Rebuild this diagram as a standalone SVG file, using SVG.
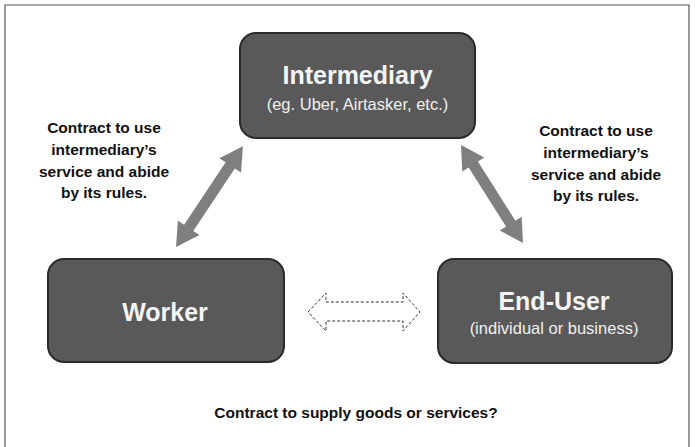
<svg xmlns="http://www.w3.org/2000/svg" width="695" height="447" viewBox="0 0 695 447">
<style>
.box{fill:#595959;stroke:#2b2b2b;stroke-width:2}
.title{font-family:"Liberation Sans",Arial,sans-serif;font-weight:bold;font-size:25px;fill:#f4f4f4;text-anchor:middle}
.sub{font-family:"Liberation Sans",Arial,sans-serif;font-size:16.5px;fill:#f0f0f0;text-anchor:middle}
.lbl{font-family:"Liberation Sans",Arial,sans-serif;font-weight:bold;font-size:15.5px;fill:#111;text-anchor:middle}
.garrow{fill:#7f7f7f}
.darrow{fill:#fff;stroke:#333;stroke-width:1;stroke-dasharray:3 2}
</style>
<rect x="0" y="0" width="695" height="447" fill="#fff"/>
<path d="M5,447 V5 H689 V447" fill="none" stroke="#555" stroke-width="1.2"/>
<g id="connectors">
<polygon class="garrow" transform="translate(176,247) rotate(-56.4)" points="0,0 23,-13 23,-5.5 98,-5.5 98,-13 121,0 98,13 98,5.5 23,5.5 23,13"/>
<polygon class="garrow" transform="translate(461,145) rotate(57.7)" points="0,0 23,-13 23,-5.5 93,-5.5 93,-13 116,0 93,13 93,5.5 23,5.5 23,13"/>
<polygon class="darrow" points="308,312 326,293 326,302 403,302 403,293 420,312 403,331 403,321 326,321 326,331"/>
</g>
<g id="intermediary">
<rect class="box" x="240" y="33" width="235" height="105" rx="16"/>
<text class="title" x="357.5" y="84">Intermediary</text>
<text class="sub" x="357.5" y="110">(eg. Uber, Airtasker, etc.)</text>
</g>
<g id="worker">
<rect class="box" x="48" y="259" width="236" height="103" rx="16"/>
<text class="title" x="165" y="321">Worker</text>
</g>
<g id="enduser">
<rect class="box" x="438" y="259" width="234" height="104" rx="16"/>
<text class="title" x="554" y="310">End-User</text>
<text class="sub" x="554" y="334">(individual or business)</text>
</g>
<g id="label-left">
<text class="lbl" x="104" y="133">Contract to use</text>
<text class="lbl" x="104" y="155">intermediary’s</text>
<text class="lbl" x="104" y="177">service and  abide</text>
<text class="lbl" x="104" y="198">by its rules.</text>
</g>
<g id="label-right">
<text class="lbl" x="596" y="136">Contract to use</text>
<text class="lbl" x="596" y="158">intermediary’s</text>
<text class="lbl" x="596" y="180">service and  abide</text>
<text class="lbl" x="596" y="201">by its rules.</text>
</g>
<g id="label-bottom">
<text class="lbl" x="356" y="418">Contract to supply goods or services?</text>
</g>
</svg>
